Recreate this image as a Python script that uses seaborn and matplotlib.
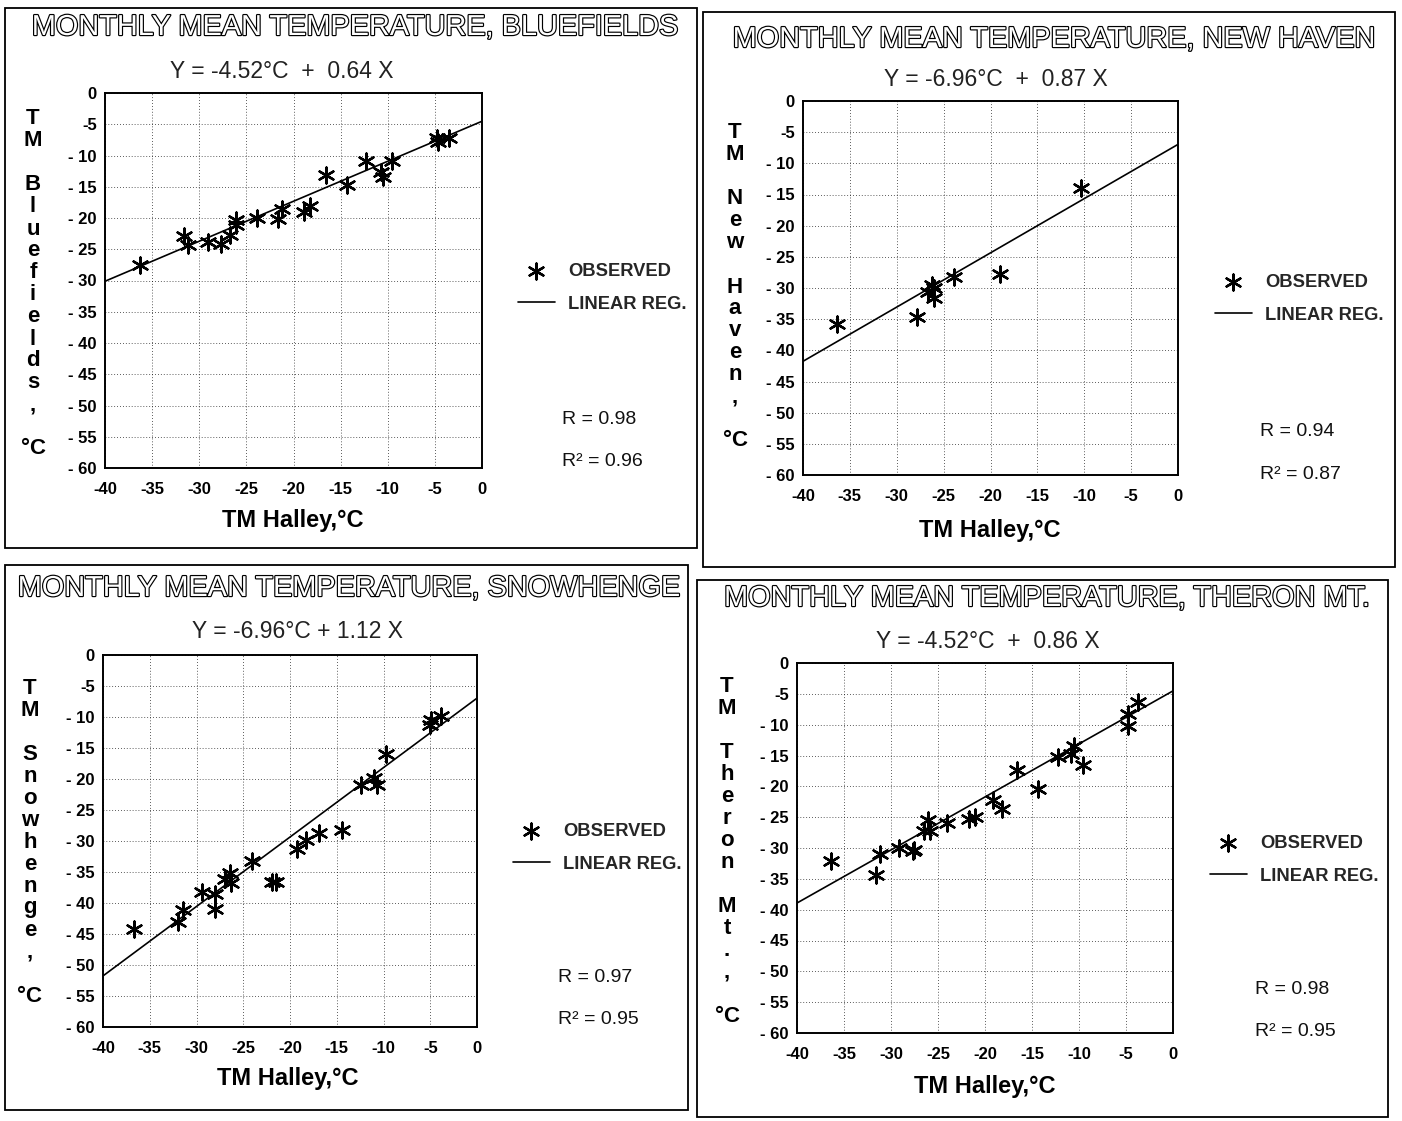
import numpy as np
import pandas as pd
import matplotlib
matplotlib.use("Agg")
import matplotlib.pyplot as plt
from matplotlib import patheffects as pe
from matplotlib.patches import Rectangle
import seaborn as sns

# ---------------- data ----------------
STATIONS = ["BLUEFIELDS", "NEW HAVEN", "SNOWHENGE", "THERON MT."]

BLUEFIELDS_X = [-36.3, -31.6, -31.2, -29.1, -27.7, -26.7, -26.1, -26.1, -23.9, -21.6, -21.2,
                -18.9, -18.2, -16.6, -14.3, -12.3, -10.7, -10.5, -9.5, -4.75, -4.7, -3.55]
BLUEFIELDS_Y = [-27.5, -22.9, -24.3, -23.9, -24.1, -22.7, -21.1, -20.3, -20.0, -20.2, -18.6,
                -19.1, -18.1, -13.1, -14.7, -10.9, -12.7, -13.4, -10.9, -7.2, -7.9, -7.2]

NEW_HAVEN_X = [-36.35, -27.8, -26.7, -26.2, -26.0, -26.0, -23.9, -19.0, -10.4]
NEW_HAVEN_Y = [-35.8, -34.6, -30.6, -29.5, -31.6, -30.0, -28.2, -27.7, -14.0]

SNOWHENGE_X = [-36.7, -32.0, -31.4, -29.4, -28.0, -28.0, -26.9, -26.4, -26.3, -24.1, -21.9,
               -21.5, -19.2, -18.3, -16.9, -14.4, -12.4, -11.0, -10.7, -9.75, -5.0, -4.9, -3.8]
SNOWHENGE_Y = [-44.2, -43.0, -41.1, -38.3, -38.5, -40.9, -36.2, -35.1, -36.8, -33.2, -36.6,
               -36.6, -31.3, -29.8, -28.7, -28.2, -21.0, -19.9, -21.0, -16.0, -11.3, -10.5, -9.9]

THERON_X = [-36.35, -31.6, -31.2, -29.1, -27.7, -27.6, -26.5, -26.1, -25.9, -24.0, -21.65,
            -21.1, -19.1, -18.2, -16.6, -14.4, -12.2, -10.8, -10.5, -9.55, -4.8, -4.75, -3.7]
THERON_Y = [-32.1, -34.3, -31.0, -30.0, -30.5, -30.3, -27.2, -25.5, -27.3, -26.0, -25.3,
            -24.9, -22.2, -23.7, -17.3, -20.4, -15.3, -14.7, -13.4, -16.5, -8.3, -10.2, -6.3]

INTERCEPTS = [-4.52, -6.96, -6.96, -4.52]
SLOPES = [0.64, 0.87, 1.12, 0.86]
R_VALUES = [0.98, 0.94, 0.97, 0.98]
R2_VALUES = [0.96, 0.87, 0.95, 0.95]

Y_LABEL_LINES = [
    ["T", "M", "", "B", "l", "u", "e", "f", "i", "e", "l", "d", "s", ",", "", "°C"],
    ["T", "M", "", "N", "e", "w", "", "H", "a", "v", "e", "n", ",", "", "°C"],
    ["T", "M", "", "S", "n", "o", "w", "h", "e", "n", "g", "e", ",", "", "°C"],
    ["T", "M", "", "T", "h", "e", "r", "o", "n", "", "M", "t", ".", ",", "", "°C"],
]
X_LABEL = "TM Halley,°C"

X_TICKS = [-40, -35, -30, -25, -20, -15, -10, -5, 0]
X_TICK_LABELS = ["-40", "-35", "-30", "-25", "-20", "-15", "-10", "-5", "0"]
Y_TICKS = [0, -5, -10, -15, -20, -25, -30, -35, -40, -45, -50, -55, -60]
Y_TICK_LABELS = ["0", "-5", "- 10", "- 15", "- 20", "- 25", "- 30", "- 35", "- 40",
                 "- 45", "- 50", "- 55", "- 60"]
XLIM = [-40, 0]
YLIM = [-60, 0]

SERIES_X = [BLUEFIELDS_X, NEW_HAVEN_X, SNOWHENGE_X, THERON_X]
SERIES_Y = [BLUEFIELDS_Y, NEW_HAVEN_Y, SNOWHENGE_Y, THERON_Y]

# ---------------- layout (pixels) ----------------
W, H = 1402, 1121
AX_BOX = [(105, 93, 482, 468), (803, 101, 1178, 475), (103, 655, 477, 1027), (797, 663, 1173, 1033)]
FRAME = [(5, 8, 697, 548), (703, 12, 1395, 567), (5, 565, 688, 1110), (697, 580, 1388, 1117)]
TITLE_POS = [(355, 27), (1054, 39), (349, 588), (1047, 598)]
EQ_POS = [(282, 72), (996, 80), (298, 632), (988, 641)]
XLAB_POS = [(293, 520), (990, 530), (288, 1078), (985, 1086)]
LEG_POS = [(518, 288), (1215, 299), (513, 848), (1210, 860)]
R_POS = [(562, 420), (1260, 432), (558, 978), (1255, 990)]
YLAB_POS = [(33, 119), (735, 133), (30, 688), (727, 686)]
EQ_FMT = ["Y = {a:.2f}°C  +  {b:.2f} X", "Y = {a:.2f}°C  +  {b:.2f} X",
          "Y = {a:.2f}°C + {b:.2f} X", "Y = {a:.2f}°C  +  {b:.2f} X"]

sns.set_style("white")
plt.rcParams["font.family"] = ["Liberation Sans", "DejaVu Sans"]

fig = plt.figure(figsize=(W / 100, H / 100), dpi=100)
fig.patch.set_facecolor("white")


def fx(px):
    return px / W


def fy(py):
    return 1 - py / H


for i in range(4):
    l, t, r, b = AX_BOX[i]
    ax = fig.add_axes([fx(l), fy(b), (r - l) / W, (b - t) / H])
    df = pd.DataFrame({"x": SERIES_X[i], "y": SERIES_Y[i]})
    sns.scatterplot(data=df, x="x", y="y", marker=(6, 2, 0), s=130, color="black",
                    linewidth=1.7, ax=ax, label="OBSERVED", zorder=3)
    xl = np.array(XLIM, dtype=float)
    sns.lineplot(x=xl, y=INTERCEPTS[i] + SLOPES[i] * xl, color="black", linewidth=1.2,
                 ax=ax, label="LINEAR REG.")
    ax.set_xlim(XLIM)
    ax.set_ylim(YLIM)
    ax.set_xticks(X_TICKS)
    ax.set_xticklabels(X_TICK_LABELS)
    ax.set_yticks(Y_TICKS)
    ax.set_yticklabels(Y_TICK_LABELS)
    ax.set_xlabel("")
    ax.set_ylabel("")
    ax.grid(True, color="black", linestyle=(0, (1, 2.5)), linewidth=0.6, alpha=0.85)
    ax.tick_params(axis="both", direction="in", length=6, width=1.3, labelsize=12,
                   colors="black")
    ax.tick_params(axis="x", pad=10)
    ax.tick_params(axis="y", pad=6)
    for lab in ax.get_xticklabels() + ax.get_yticklabels():
        lab.set_fontweight("bold")
    for sp in ax.spines.values():
        sp.set_visible(True)
        sp.set_color("black")
        sp.set_linewidth(1.4)

    ax.legend(loc="center left", bbox_to_anchor=(fx(LEG_POS[i][0]), fy(LEG_POS[i][1])),
              bbox_transform=fig.transFigure, frameon=False, borderpad=0,
              borderaxespad=0, handlelength=2.0, handletextpad=0.75, labelspacing=0.85,
              prop={"weight": "bold", "size": 13.2})

    # frame around panel
    fl, ft, fr, fb = FRAME[i]
    fig.patches.append(Rectangle((fx(fl), fy(fb)), (fr - fl) / W, (fb - ft) / H,
                                 transform=fig.transFigure, fill=False,
                                 edgecolor="black", linewidth=1.3))

    # title (outlined letters)
    fig.text(fx(TITLE_POS[i][0]), fy(TITLE_POS[i][1]),
             f"MONTHLY MEAN TEMPERATURE, {STATIONS[i]}",
             ha="center", va="center", fontsize=20.8, color="white",
             path_effects=[pe.withStroke(linewidth=1.7, foreground="black")])

    # equation
    fig.text(fx(EQ_POS[i][0]), fy(EQ_POS[i][1]),
             EQ_FMT[i].format(a=INTERCEPTS[i], b=SLOPES[i]),
             ha="center", va="center", fontsize=16.5, color="#222222")

    # x label
    fig.text(fx(XLAB_POS[i][0]), fy(XLAB_POS[i][1]), X_LABEL, ha="center", va="center",
             fontsize=17, fontweight="bold", color="black")

    # stacked y label
    yx, yt = YLAB_POS[i]
    for k, ch in enumerate(Y_LABEL_LINES[i]):
        if ch:
            fig.text(fx(yx), fy(yt + 22 * k), ch, ha="center", va="center",
                     fontsize=16, fontweight="bold", color="black")

    # R and R^2
    rx, ry = R_POS[i]
    fig.text(fx(rx), fy(ry), f"R = {R_VALUES[i]:.2f}", ha="left", va="center",
             fontsize=14, color="#111111")
    fig.text(fx(rx), fy(ry + 42), f"R² = {R2_VALUES[i]:.2f}", ha="left", va="center",
             fontsize=14, color="#111111")

fig.savefig("out.png", dpi=100, facecolor="white")
